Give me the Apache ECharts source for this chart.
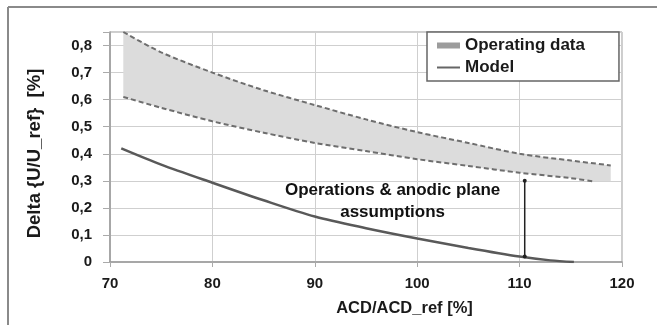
<!DOCTYPE html>
<html>
<head>
<meta charset="utf-8">
<script src="https://cdn.jsdelivr.net/npm/echarts@6/dist/echarts.min.js"></script>
<style>
html,body{margin:0;padding:0;background:#fff;}
#c{width:657px;height:325px;}
</style>
</head>
<body>
<div id="c"></div>
<script>
// Operating data band: upper dashed bound
const upperX = [71.3, 75, 80, 85, 90, 95, 100, 105, 110, 115, 118.9];
const upperY = [0.85, 0.775, 0.70, 0.635, 0.58, 0.527, 0.48, 0.44, 0.40, 0.375, 0.357];
// lower dashed bound
const lowerX = [71.3, 75, 80, 85, 90, 95, 100, 105, 110, 115, 117.1];
const lowerY = [0.61, 0.57, 0.52, 0.478, 0.44, 0.41, 0.38, 0.355, 0.33, 0.31, 0.298];
// band fill closes at the right end with a flat bottom
const fillEndX = [118.9];
const fillEndY = [0.298];
// Model curve
const modelX = [71.1, 75, 80, 85, 90, 95, 100, 105, 110, 113, 115.3];
const modelY = [0.42, 0.36, 0.293, 0.228, 0.168, 0.125, 0.087, 0.052, 0.02, 0.006, 0.0];
// Arrow (operations & anodic plane assumptions)
const arrowX = [110.5, 110.5];
const arrowY = [0.02, 0.30];
const annotX = [97.6];
const annotY = [0.224];
const annotText = 'Operations & anodic plane\nassumptions';
// axes
const xTicks = [70, 80, 90, 100, 110, 120];
const yTicks = [0, 0.1, 0.2, 0.3, 0.4, 0.5, 0.6, 0.7, 0.8];

const zip = (a, b) => a.map((v, i) => [v, b[i]]);
const FONT = '"Liberation Sans", Arial, sans-serif';

const chart = echarts.init(document.getElementById('c'), null, {renderer: 'canvas'});

const option = {
  backgroundColor: '#fff',
  animation: false,
  graphic: [
    {type: 'line', shape: {x1: 8, y1: 7, x2: 657, y2: 7}, style: {stroke: '#8a8a8a', lineWidth: 2}, z: 100},
    {type: 'line', shape: {x1: 8, y1: 7, x2: 8, y2: 325}, style: {stroke: '#8a8a8a', lineWidth: 2}, z: 100}
  ],
  grid: {left: 110, right: 35, top: 32, bottom: 63, show: true, borderColor: '#9a9a9a', borderWidth: 1},
  legend: {
    orient: 'vertical',
    left: 427, top: 32,
    padding: [5, 34, 5, 10],
    itemGap: 5,
    itemWidth: 23, itemHeight: 16,
    backgroundColor: '#fff',
    borderColor: '#666', borderWidth: 1.5,
    textStyle: {fontFamily: FONT, fontWeight: 'bold', fontSize: 17, color: '#1a1a1a'},
    data: [
      {name: 'Operating data', icon: 'path://M0,0 L0,0.01 M0,5 L23,5 L23,11 L0,11 Z M23,16 L23,15.99', itemStyle: {color: '#9c9c9c'}},
      {name: 'Model', icon: 'path://M0,0 L0,0.01 M0,7 L23,7 L23,9 L0,9 Z M23,16 L23,15.99', itemStyle: {color: '#666'}}
    ]
  },
  xAxis: {
    type: 'value', min: 70, max: 120, interval: 10,
    name: 'ACD/ACD_ref [%]', nameLocation: 'middle', nameGap: 38,
    nameTextStyle: {fontFamily: FONT, fontWeight: 'bold', fontSize: 16.5, color: '#1a1a1a', padding: [0, 0, 0, 77]},
    axisLine: {lineStyle: {color: '#9a9a9a', width: 1.5}},
    axisTick: {show: true, length: 5, lineStyle: {color: '#aaa'}},
    axisLabel: {margin: 14, fontFamily: FONT, fontWeight: 'bold', fontSize: 15, color: '#1a1a1a',
      customValues: xTicks},
    splitLine: {show: true, lineStyle: {color: '#cfcfcf', width: 1}}
  },
  yAxis: {
    type: 'value', min: 0, max: 0.85, interval: 0.1,
    name: 'Delta {U/U_ref}  [%]', nameLocation: 'middle', nameGap: 66, nameRotate: 90,
    nameTextStyle: {fontFamily: FONT, fontWeight: 'bold', fontSize: 18.5, color: '#1a1a1a', padding: [0, 13, 0, 0]},
    axisLine: {show: true, lineStyle: {color: '#9a9a9a', width: 1.5}},
    axisTick: {show: true, length: 7, lineStyle: {color: '#aaa'}},
    axisLabel: {margin: 18, fontFamily: FONT, fontWeight: 'bold', fontSize: 15, color: '#1a1a1a',
      customValues: yTicks,
      formatter: v => { const r = Math.round(v * 10) / 10; return r === 0 ? '0' : r.toFixed(1).replace('.', ','); }},
    splitLine: {show: true, lineStyle: {color: '#cfcfcf', width: 1}}
  },
  series: [
    {
      name: 'Operating data',
      type: 'custom',
      data: [[upperX[0], upperY[0]]],
      itemStyle: {color: '#9c9c9c'},
      z: 1,
      renderItem: function (params, api) {
        const pts = [];
        for (let i = 0; i < upperX.length; i++) pts.push(api.coord([upperX[i], upperY[i]]));
        for (let i = 0; i < fillEndX.length; i++) pts.push(api.coord([fillEndX[i], fillEndY[i]]));
        for (let i = lowerX.length - 1; i >= 0; i--) pts.push(api.coord([lowerX[i], lowerY[i]]));
        return {type: 'polygon', shape: {points: pts}, style: {fill: '#dcdcdc', stroke: null}};
      }
    },
    {
      name: 'upper', type: 'line', data: zip(upperX, upperY), smooth: 0.3, showSymbol: false, symbol: 'none', z: 3,
      lineStyle: {color: '#6e6e6e', width: 2, type: [5, 3]}
    },
    {
      name: 'lower', type: 'line', data: zip(lowerX, lowerY), smooth: 0.3, showSymbol: false, symbol: 'none', z: 3,
      lineStyle: {color: '#6e6e6e', width: 2, type: [5, 3]}
    },
    {
      name: 'Model', type: 'line', data: zip(modelX, modelY), smooth: 0.3, showSymbol: false, symbol: 'none', z: 4,
      itemStyle: {color: '#666'},
      lineStyle: {color: '#595959', width: 2.5}
    },
    {
      name: 'arrow', type: 'line', data: zip(arrowX, arrowY), symbol: 'circle', symbolSize: 4, z: 5,
      itemStyle: {color: '#222'}, lineStyle: {color: '#222', width: 1.5}
    },
    {
      name: 'annotation', type: 'custom', data: zip(annotX, annotY), z: 6,
      renderItem: function (params, api) {
        const p = api.coord([api.value(0), api.value(1)]);
        return {
          type: 'text', x: p[0], y: p[1],
          style: {text: annotText, fill: '#111', font: 'bold 17px ' + FONT, lineHeight: 22,
            align: 'center', verticalAlign: 'middle'}
        };
      }
    }
  ]
};
chart.setOption(option);
</script>
</body>
</html>
